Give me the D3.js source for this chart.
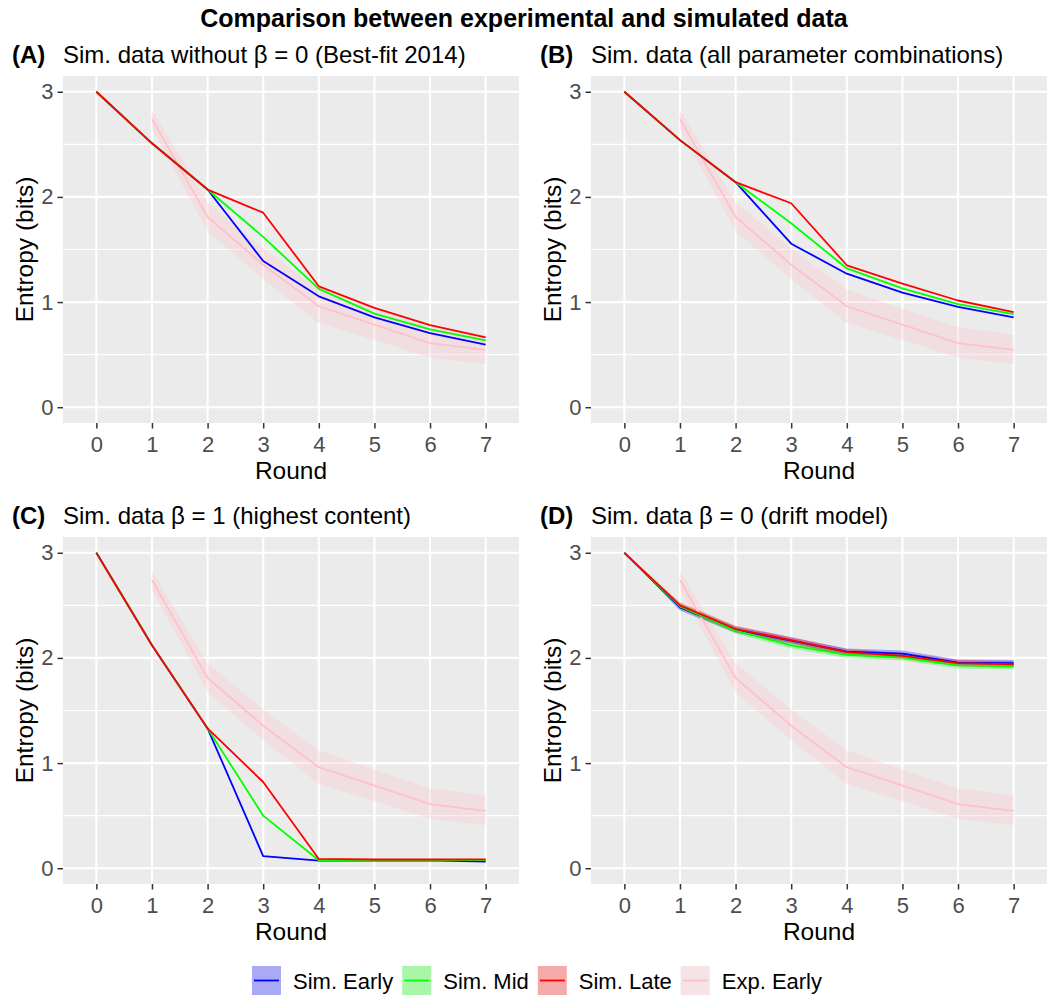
<!DOCTYPE html>
<html>
<head>
<meta charset="utf-8">
<script src="https://cdn.jsdelivr.net/npm/d3@7"></script>
<style>
    body { margin: 0; background: #fff; }
    svg text { font-family: "Liberation Sans", Arial, Helvetica, sans-serif; }
</style>
</head>
<body>
<svg id="chart" width="1048" height="995"></svg>
<script>
// rounds on the x axis
var rounds = [0, 1, 2, 3, 4, 5, 6, 7];
var expRounds = [1, 2, 3, 4, 5, 6, 7];
var yTicks = [0, 1, 2, 3];
var yMinor = [0.5, 1.5, 2.5];

// experimental data (same in every panel)
var expMean = [2.74, 1.81, 1.355, 0.96, 0.785, 0.61, 0.545];
var expLow = [2.65, 1.67, 1.22, 0.80, 0.64, 0.47, 0.41];
var expHigh = [2.83, 1.95, 1.51, 1.12, 0.94, 0.76, 0.69];

// (A) best-fit 2014
var aEarly = [3.0, 2.51, 2.07, 1.39, 1.055, 0.855, 0.705, 0.595];
var aMid = [3.0, 2.51, 2.07, 1.62, 1.125, 0.89, 0.74, 0.635];
var aLate = [3.0, 2.51, 2.07, 1.85, 1.15, 0.945, 0.78, 0.665];

// (B) all parameter combinations
var bEarly = [3.0, 2.54, 2.14, 1.555, 1.27, 1.09, 0.955, 0.855];
var bMid = [3.0, 2.54, 2.14, 1.75, 1.32, 1.13, 0.98, 0.885];
var bLate = [3.0, 2.54, 2.14, 1.94, 1.35, 1.175, 1.015, 0.905];

// (C) beta = 1
var cEarly = [3.0, 2.12, 1.33, 0.115, 0.073, 0.073, 0.075, 0.064];
var cMid = [3.0, 2.12, 1.33, 0.50, 0.076, 0.076, 0.077, 0.077];
var cLate = [3.0, 2.12, 1.33, 0.82, 0.088, 0.083, 0.083, 0.085];

// (D) beta = 0, drift model (with visible ribbons)
var dEarly = [3.0, 2.48, 2.27, 2.165, 2.06, 2.04, 1.955, 1.95];
var dEarlyLow = [3.0, 2.45, 2.24, 2.135, 2.03, 2.01, 1.925, 1.92];
var dEarlyHigh = [3.0, 2.51, 2.30, 2.195, 2.09, 2.07, 1.985, 1.98];
var dMid = [3.0, 2.49, 2.26, 2.12, 2.03, 2.005, 1.93, 1.92];
var dMidLow = [3.0, 2.46, 2.23, 2.09, 2.00, 1.975, 1.90, 1.89];
var dMidHigh = [3.0, 2.52, 2.29, 2.15, 2.06, 2.035, 1.96, 1.95];
var dLate = [3.0, 2.5, 2.275, 2.17, 2.055, 2.02, 1.95, 1.94];
var dLateLow = [3.0, 2.47, 2.245, 2.14, 2.025, 1.99, 1.92, 1.91];
var dLateHigh = [3.0, 2.53, 2.305, 2.20, 2.085, 2.05, 1.98, 1.97];

var seriesNames = ["Sim. Early", "Sim. Mid", "Sim. Late", "Exp. Early"];
var seriesColors = ["#0000FF", "#00FF00", "#FF0000", "#FFC0CB"];

var panels = [
    {label: "(A)", title: "Sim. data without \u03B2 = 0 (Best-fit 2014)", dx: 0, dy: 0,
        sims: [aEarly, aMid, aLate], lows: null, highs: null},
    {label: "(B)", title: "Sim. data (all parameter combinations)", dx: 528, dy: 0,
        sims: [bEarly, bMid, bLate], lows: null, highs: null},
    {label: "(C)", title: "Sim. data \u03B2 = 1 (highest content)", dx: 0, dy: 461,
        sims: [cEarly, cMid, cLate], lows: null, highs: null},
    {label: "(D)", title: "Sim. data \u03B2 = 0 (drift model)", dx: 528, dy: 461,
        sims: [dEarly, dMid, dLate], lows: [dEarlyLow, dMidLow, dLateLow], highs: [dEarlyHigh, dMidHigh, dLateHigh]}
];

var svg = d3.select("#chart");

// plot area inside each panel
var plotLeft = 63, plotRight = 519, plotTop = 76, plotBottom = 423;

var xScale = d3.scaleLinear().domain([-0.6, 7.6]).range([plotLeft, plotRight]);
var yScale = d3.scaleLinear().domain([-0.15, 3.15]).range([plotBottom, plotTop]);

var line = d3.line()
    .defined(function (d) { return d[1] != null; })
    .x(function (d) { return xScale(d[0]); })
    .y(function (d) { return yScale(d[1]); });

var area = d3.area()
    .x(function (d) { return xScale(d[0]); })
    .y0(function (d) { return yScale(d[1]); })
    .y1(function (d) { return yScale(d[2]); });

// main title
svg.append("text")
    .attr("x", 524)
    .attr("y", 27)
    .attr("text-anchor", "middle")
    .style("font-size", "25px")
    .style("font-weight", "bold")
    .text("Comparison between experimental and simulated data");

panels.forEach(function (p) {

    var g = svg.append("g").attr("transform", "translate(" + p.dx + "," + p.dy + ")");

    // panel label and title
    g.append("text")
        .attr("x", 12).attr("y", 63)
        .style("font-size", "24px").style("font-weight", "bold")
        .text(p.label);
    g.append("text")
        .attr("x", 63).attr("y", 63)
        .style("font-size", "24px")
        .text(p.title);

    // background + grid
    g.append("rect")
        .attr("x", plotLeft).attr("y", plotTop)
        .attr("width", plotRight - plotLeft).attr("height", plotBottom - plotTop)
        .style("fill", "#EBEBEB");

    g.selectAll("line.minor").data(yMinor).enter().append("line")
        .attr("x1", plotLeft).attr("x2", plotRight)
        .attr("y1", function (d) { return yScale(d); })
        .attr("y2", function (d) { return yScale(d); })
        .style("stroke", "#fff").style("stroke-width", 1.1);

    g.selectAll("line.majorY").data(yTicks).enter().append("line")
        .attr("x1", plotLeft).attr("x2", plotRight)
        .attr("y1", function (d) { return yScale(d); })
        .attr("y2", function (d) { return yScale(d); })
        .style("stroke", "#fff").style("stroke-width", 2.1);

    g.selectAll("line.majorX").data(rounds).enter().append("line")
        .attr("y1", plotTop).attr("y2", plotBottom)
        .attr("x1", function (d) { return xScale(d); })
        .attr("x2", function (d) { return xScale(d); })
        .style("stroke", "#fff").style("stroke-width", 2.1);

    // experimental ribbon + line
    var expRib = expRounds.map(function (r, i) { return [r, expLow[i], expHigh[i]]; });
    g.append("path")
        .attr("d", area(expRib))
        .style("fill", seriesColors[3]).style("fill-opacity", 0.3);

    // simulated ribbons (only wide enough to see in D)
    if (p.lows) {
        p.sims.forEach(function (s, k) {
            var rib = rounds.map(function (r, i) { return [r, p.lows[k][i], p.highs[k][i]]; });
            g.append("path")
                .attr("d", area(rib))
                .style("fill", seriesColors[k]).style("fill-opacity", 0.3);
        });
    }

    g.append("path")
        .attr("d", line(expRounds.map(function (r, i) { return [r, expMean[i]]; })))
        .style("fill", "none").style("stroke", seriesColors[3]).style("stroke-width", 1.8);

    p.sims.forEach(function (s, k) {
        g.append("path")
            .attr("d", line(rounds.map(function (r, i) { return [r, s[i]]; })))
            .style("fill", "none")
            .style("stroke", seriesColors[k])
            .style("stroke-width", 1.8)
            .style("stroke-linejoin", "round");
    });

    // axes
    var yAxis = d3.axisLeft(yScale).tickValues(yTicks).tickFormat(d3.format("d")).tickSize(5.5).tickPadding(4);
    var ya = g.append("g").attr("transform", "translate(" + plotLeft + ",0)").call(yAxis);

    var xAxis = d3.axisBottom(xScale).tickValues(rounds).tickFormat(d3.format("d")).tickSize(5.5).tickPadding(7.5);
    var xa = g.append("g").attr("transform", "translate(0," + plotBottom + ")").call(xAxis);

    [ya, xa].forEach(function (a) {
        a.select(".domain").remove();
        a.selectAll("line").style("stroke", "#333333").style("stroke-width", 1.5);
        a.selectAll("text")
            .style("font-size", "22px")
            .style("fill", "#4D4D4D")
            .style("font-family", "'Liberation Sans', Arial, sans-serif");
    });

    // axis titles
    g.append("text")
        .attr("x", (plotLeft + plotRight) / 2).attr("y", 479)
        .attr("text-anchor", "middle")
        .style("font-size", "24.5px")
        .text("Round");

    g.append("text")
        .attr("transform", "translate(33," + ((plotTop + plotBottom) / 2) + ") rotate(-90)")
        .attr("text-anchor", "middle")
        .style("font-size", "24.5px")
        .text("Entropy (bits)");
});

// legend at the bottom
var legend = svg.append("g");
var lx = 252, keySize = 29, keyTop = 966;

seriesNames.forEach(function (name, k) {
    var item = legend.append("g");
    item.append("rect")
        .attr("x", lx).attr("y", keyTop)
        .attr("width", keySize).attr("height", keySize)
        .style("fill", "#F2F2F2");
    item.append("rect")
        .attr("x", lx).attr("y", keyTop)
        .attr("width", keySize).attr("height", keySize)
        .style("fill", seriesColors[k]).style("fill-opacity", 0.3);
    item.append("line")
        .attr("x1", lx + 2).attr("x2", lx + keySize - 2)
        .attr("y1", keyTop + keySize / 2).attr("y2", keyTop + keySize / 2)
        .style("stroke", seriesColors[k]).style("stroke-width", 1.8);
    var t = item.append("text")
        .attr("x", lx + keySize + 12).attr("y", keyTop + keySize / 2 + 8)
        .style("font-size", "22px")
        .text(name);
    lx = lx + keySize + 12 + t.node().getComputedTextLength() + 9;
});
</script>
</body>
</html>
